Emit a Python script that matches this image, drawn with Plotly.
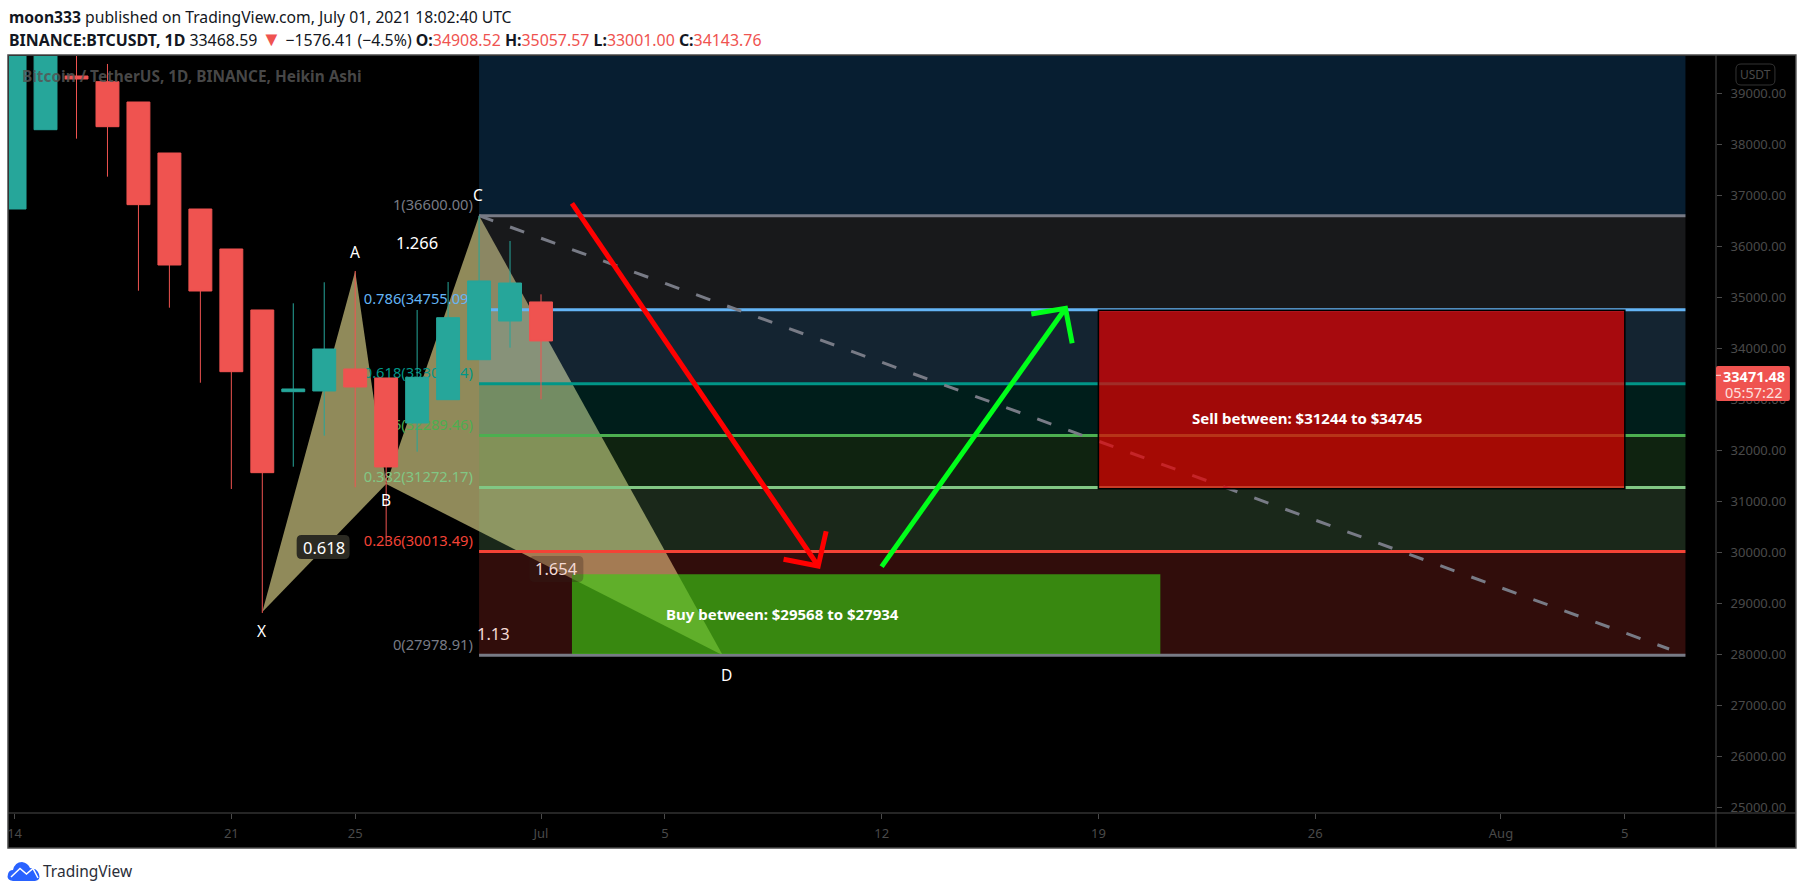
#!/usr/bin/env python

import pandas as pd
import plotly.graph_objects as go

# heikin ashi candles
candle_dates = pd.date_range("2021-06-14", periods=18).strftime("%Y-%m-%d").tolist()
opens = [36731, 38286, 39339, 39227, 38829, 37829, 36731, 35947, 34751,
         33149, 33163, 33594, 33418, 32535, 32992, 33776, 34535, 34908.52]
closes = [41000, 41000, 39280, 38345, 36816, 35633, 35123, 33541, 31561,
          33202, 33986, 33241, 31673, 33431, 34600, 35320, 35280, 34143.76]
highs = [41500, 41500, 40200, 39575, 38829, 37829, 36731, 35947, 34751,
         34882, 35294, 35516, 33418, 34751, 35300, 36600, 36104, 35057.57]
lows = [36731, 38286, 38110, 37365, 35129, 34796, 33325, 31241, 28810,
        31678, 32286, 31275, 30143, 31973, 32992, 33776, 34012, 33001.00]

# fib retracement
fib_levels = [36600.00, 34755.09, 33306.74, 32289.46, 31272.17, 30013.49, 27978.91]
fib_names = ["1", "0.786", "0.618", "0.5", "0.382", "0.236", "0"]
fib_colors = ["#787b86", "#64b5f6", "#009688", "#4caf50", "#81c784", "#f44336", "#787b86"]
fib_fills = ["rgba(33,150,243,0.2)", "rgba(120,123,134,0.2)", "rgba(100,181,246,0.2)",
             "rgba(0,150,136,0.2)", "rgba(76,175,80,0.2)", "rgba(129,199,132,0.2)",
             "rgba(244,67,54,0.2)"]
fib_start = "2021-06-29"
fib_label_end = "2021-06-28 19:12"
fib_end = "2021-08-06 23:00"
fib_top = 40500

# XABCD pattern
pattern_dates = ["2021-06-22", "2021-06-25", "2021-06-26", "2021-06-29", "2021-07-06 20:53"]
pattern_prices = [28829, 35516, 31339, 36600, 27978.91]

# trend line and the two arrows
trend_dates = ["2021-06-29", "2021-08-06 10:19"]
trend_prices = [36600, 28104]
red_arrow_dates = ["2021-07-02", "2021-07-09 22:50", None, "2021-07-08 20:00",
                   "2021-07-09 22:50", "2021-07-10 05:00"]
red_arrow_prices = [36843, 29731, None, 29863, 29731, 30412]
green_arrow_dates = ["2021-07-12", "2021-07-17 22:30", None, "2021-07-16 20:00",
                     "2021-07-17 22:30", "2021-07-18 03:40"]
green_arrow_prices = [29718, 34784, None, 34673, 34784, 34098]

# zones
sell_zone = ["2021-07-19", "2021-08-05", 31244, 34745]
buy_zone = ["2021-07-02", "2021-07-21", 28005, 29568]

x_ticks = ["2021-06-14", "2021-06-21", "2021-06-25", "2021-07-01", "2021-07-05",
           "2021-07-12", "2021-07-19", "2021-07-26", "2021-08-01", "2021-08-05"]
x_labels = ["14", "21", "25", "Jul", "5", "12", "19", "26", "Aug", "5"]
y_ticks = list(range(25000, 40000, 1000))

FONT = "Noto Sans"
AXIS = "#4a4a4a"
L, R, T, B = 7, 1716, 56, 813


def px(x):
    return (x - L) / (R - L)


def left(x):
    # the candle side of the page sits 2px left of what was first measured
    return px(x - 2)


def py(y):
    return (B - y) / (B - T)


def rounded(x0, y0, x1, y1, r):
    xs = [px(x0), px(x0 + r), px(x1 - r), px(x1)]
    ys = [py(y0), py(y0 + r), py(y1 - r), py(y1)]
    return (f"M {xs[1]},{ys[0]} L {xs[2]},{ys[0]} Q {xs[3]},{ys[0]} {xs[3]},{ys[1]} "
            f"L {xs[3]},{ys[2]} Q {xs[3]},{ys[3]} {xs[2]},{ys[3]} L {xs[1]},{ys[3]} "
            f"Q {xs[0]},{ys[3]} {xs[0]},{ys[2]} L {xs[0]},{ys[1]} Q {xs[0]},{ys[0]} {xs[1]},{ys[0]} Z")


def poly(idx):
    pts = [f"{pattern_dates[i].replace(' ', '_')},{pattern_prices[i]}" for i in idx]
    return "M " + " L ".join(pts) + " Z"


shapes = []
# black panel with its frame and axis lines
shapes.append(dict(type="rect", xref="paper", yref="paper", x0=px(6), x1=px(1796), y0=py(848), y1=py(55),
                   fillcolor="black", line=dict(color=AXIS, width=1.5), layer="below"))
shapes.append(dict(type="line", xref="paper", yref="paper", x0=1, x1=1, y0=py(848), y1=py(55),
                   line=dict(color=AXIS, width=1), layer="below"))
shapes.append(dict(type="line", xref="paper", yref="paper", x0=px(6), x1=px(1796), y0=0, y1=0,
                   line=dict(color=AXIS, width=1), layer="below"))

shapes.append(dict(type="path", path=poly([0, 1, 2]), fillcolor="#908a5a", line=dict(width=0), layer="below"))
shapes.append(dict(type="path", path=poly([2, 3, 4]), fillcolor="#908a5a", line=dict(width=0), layer="below"))

bounds = [fib_top] + fib_levels
for i in range(len(fib_fills)):
    shapes.append(dict(type="rect", x0=fib_start, x1=fib_end, y0=bounds[i + 1], y1=bounds[i],
                       fillcolor=fib_fills[i], line=dict(width=0), layer="below"))
for lvl, name, col in zip(fib_levels, fib_names, fib_colors):
    shapes.append(dict(type="line", x0=fib_start, x1=fib_end, y0=lvl, y1=lvl,
                       line=dict(color=col, width=3), layer="below"))
    # the text hangs off its own unseen line so it can stop short of the level
    shapes.append(dict(type="line", x0=fib_label_end, x1=fib_start, y0=lvl, y1=lvl,
                       line=dict(width=0), layer="below",
                       label=dict(text=f"{name}({lvl:.2f})", textposition="start", xanchor="right",
                                  yanchor="bottom", padding=0,
                                  font=dict(family=FONT, size=14.7, color=col))))

shapes.append(dict(type="line", x0=trend_dates[0], x1=trend_dates[1], y0=trend_prices[0], y1=trend_prices[1],
                   line=dict(color="#787b86", width=3, dash="15px,18px"), layer="below"))
shapes.append(dict(type="rect", x0=buy_zone[0], x1=buy_zone[1], y0=buy_zone[2], y1=buy_zone[3],
                   fillcolor="rgba(60,203,20,0.65)", line=dict(width=0), layer="below"))
shapes.append(dict(type="rect", x0=sell_zone[0], x1=sell_zone[1], y0=sell_zone[2], y1=sell_zone[3],
                   fillcolor="rgba(230,0,0,0.7)", line=dict(color="black", width=1.5), layer="below"))

# last price tag, unit badge, number badges and logo go over the axis
shapes.append(dict(type="path", xref="paper", yref="paper", path=rounded(1736, 64, 1775, 85, 5),
                   line=dict(color="#333333", width=1), fillcolor="black", layer="above"))
shapes.append(dict(type="path", xref="paper", yref="paper", path=rounded(1716, 366, 1790, 401, 2),
                   line=dict(width=0), fillcolor="#ef5350", layer="above"))
shapes.append(dict(type="line", xref="paper", yref="paper", x0=px(1716), x1=px(1721), y0=py(375.3), y1=py(375.3),
                   line=dict(color="#fde0df", width=1), layer="above"))
shapes.append(dict(type="path", xref="paper", yref="paper", path=rounded(295, 535, 348, 559, 5),
                   line=dict(width=0), fillcolor="#2b2a22", layer="above"))
shapes.append(dict(type="path", xref="paper", yref="paper", path=rounded(528, 556, 582, 582, 5),
                   line=dict(width=0), fillcolor="rgba(50,30,25,0.3)", layer="above"))
cloud = (f"M {px(11)},{py(881)} Q {px(4)},{py(880)} {px(6)},{py(874)} Q {px(7)},{py(870)} {px(11)},{py(870)} "
         f"Q {px(13)},{py(862)} {px(20)},{py(862)} Q {px(26)},{py(863)} {px(28)},{py(868)} "
         f"Q {px(35)},{py(868)} {px(37)},{py(874)} Q {px(39)},{py(880)} {px(33)},{py(881)} Z")
shapes.append(dict(type="path", xref="paper", yref="paper", path=cloud, fillcolor="#2962ff", line=dict(width=0)))
zig = (f"M {px(9)},{py(877)} L {px(18)},{py(868.5)} L {px(24.5)},{py(874)} L {px(31)},{py(868.5)} L {px(36)},{py(878)}")
shapes.append(dict(type="path", xref="paper", yref="paper", path=zig, line=dict(color="white", width=1.5)))


def note(text, x, y, color="white", size=14, **kw):
    return dict(text=text, xref="paper", yref="paper", x=x, y=py(y), showarrow=False,
                font=dict(family=FONT, size=size, color=color), xanchor=kw.pop("xanchor", "center"),
                yanchor="middle", borderpad=0, **kw)


RED = "#ef5350"
header2 = ("<b>BINANCE:BTCUSDT, 1D</b> 33468.59 <span style='color:#ef5350;font-size:20px'>▼</span> −1576.41 (−4.5%) "
           f"<b>O:</b><span style='color:{RED}'>34908.52</span> <b>H:</b><span style='color:{RED}'>35057.57</span> "
           f"<b>L:</b><span style='color:{RED}'>33001.00</span> <b>C:</b><span style='color:{RED}'>34143.76</span>")
annotations = [
    note("<b>moon333</b> published on TradingView.com, July 01, 2021 18:02:40 UTC", left(8), 16.5, "#131722", 15.7, xanchor="left"),
    note(header2, left(8), 38.5, "#131722", 15.9, xanchor="left"),
    note("<b>Bitcoin / TetherUS, 1D, BINANCE, Heikin Ashi</b>", px(19), 76.5, "rgba(85,85,85,0.85)", 15.4, xanchor="left"),
    note("X", left(262), 630.5, size=15.5),
    note("A", left(355), 251.5, size=15.5),
    note("B", left(386.5), 500.5, size=15.5),
    note("C", left(479), 195.5, size=15.5),
    note("D", left(727), 674.5, size=15.5),
    note("1.266", left(417), 242.5, size=16.5),
    note("0.618", left(324), 547, size=16.5),
    note("1.654", left(557), 568.5, "#f4d9d4", 16.5),
    note("1.13", left(494), 633, "#f4d9d4", 16.5),
    note("<b>Buy between: $29568 to $27934</b>", left(783), 613.5, size=15),
    note("<b>Sell between: $31244 to $34745</b>", left(1309), 418, size=15),
    note("USDT", px(1755.5), 74.5, AXIS, 12),
    note("<b>33471.48</b>", px(1754), 376, "white", 14.5),
    note("05:57:22", px(1754), 392, "#fde0df", 14.5),
    note("TradingView", left(42), 871, "#2a2e39", 15.5, xanchor="left"),
]

fig = go.Figure()
fig.add_trace(go.Candlestick(
    x=candle_dates, open=opens, high=highs, low=lows, close=closes,
    increasing=dict(line=dict(color="#26a69a", width=1), fillcolor="#26a69a"),
    decreasing=dict(line=dict(color="#ef5350", width=1), fillcolor="#ef5350"),
    whiskerwidth=0, showlegend=False, hoverinfo="skip"))
fig.add_trace(go.Scatter(x=red_arrow_dates, y=red_arrow_prices, mode="lines", showlegend=False,
                         line=dict(color="#ff0000", width=5), connectgaps=False))
fig.add_trace(go.Scatter(x=green_arrow_dates, y=green_arrow_prices, mode="lines", showlegend=False,
                         line=dict(color="#00ff1a", width=5), connectgaps=False))

fig.update_layout(
    width=1805, height=895, autosize=False,
    margin=dict(l=L, r=1805 - R, t=T, b=895 - B, pad=0),
    paper_bgcolor="white", plot_bgcolor="black",
    boxgap=0.26, boxgroupgap=0,
    shapes=shapes, annotations=annotations,
    xaxis=dict(type="date", range=["2021-06-13 19:41", "2021-08-07 22:40"], rangeslider=dict(visible=False),
               tickmode="array", tickvals=x_ticks, ticktext=x_labels, ticks="outside", ticklen=5,
               tickcolor=AXIS, showgrid=False, zeroline=False, showline=False, ticklabelstandoff=3,
               tickfont=dict(family=FONT, size=13, color=AXIS)),
    yaxis=dict(range=[24888, 39731], side="right", tickmode="array", tickvals=y_ticks, tickformat=".2f",
               ticks="outside", ticklen=5, tickcolor=AXIS, showgrid=False, zeroline=False, showline=False,
               ticklabelstandoff=6, tickfont=dict(family=FONT, size=13, color=AXIS)),
)

fig.write_html("out.html", config=dict(displayModeBar=False),
               post_script="document.body.style.margin='0';document.body.style.overflow='hidden';")
